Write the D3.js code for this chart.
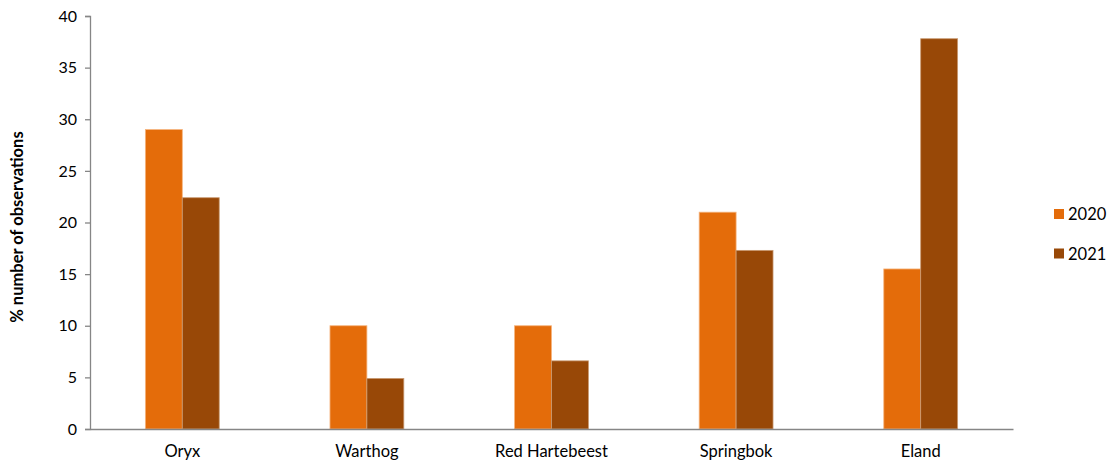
<!DOCTYPE html>
<html><head><meta charset="utf-8">
<script src="https://cdn.jsdelivr.net/npm/d3@7"></script>
<style>body{margin:0;background:#fff}svg{display:block}text{font-family:Lato,"Open Sans",sans-serif;fill:#000}</style>
</head><body>
<svg id="c" width="1113" height="466"></svg>
<script>
const categories = ["Oryx","Warthog","Red Hartebeest","Springbok","Eland"];
const seriesNames = ["2020","2021"];
const values2020 = [29, 10, 10, 21, 15.5];
const values2021 = [22.4, 4.9, 6.6, 17.3, 37.8];
const yTicks = [0,5,10,15,20,25,30,35,40];
const colors = ["#E46C0A","#984807"];
const strokes = ["#F5B47E","#C99A72"];

const svg = d3.select("#c");
const x = d3.scaleBand().domain(categories).range([90,1013]);
const y = d3.scaleLinear().domain([0,40]).range([429,16]);
const barW = x.bandwidth()*0.2;

const data = [values2020, values2021];
data.forEach((vals,si)=>{
  svg.append("g").selectAll("rect").data(categories).join("rect")
    .attr("x", c => x(c)+x.bandwidth()/2 - barW + si*barW)
    .attr("y", (c,i)=>y(vals[i]))
    .attr("width", barW)
    .attr("height", (c,i)=>y(0)-y(vals[i]))
    .attr("fill", colors[si])
    .attr("stroke", strokes[si]).attr("stroke-width",0.8);
});

const ya = svg.append("g").attr("transform","translate(90,0)")
  .call(d3.axisLeft(y).tickValues(yTicks).tickSize(5).tickPadding(8));
ya.select(".domain").attr("stroke","#868686").attr("stroke-width",1.3);
ya.selectAll(".tick line").attr("stroke","#868686").attr("stroke-width",1.3);
ya.selectAll("text").attr("font-size",16).attr("fill","#000").attr("font-family","Lato");

const xa = svg.append("g").attr("transform","translate(0,429)")
  .call(d3.axisBottom(x).tickSize(0).tickPadding(16).tickSizeOuter(0));
xa.select(".domain").attr("stroke","#868686").attr("stroke-width",1.3);
xa.selectAll("text").attr("font-size",16.5).attr("fill","#000").attr("font-family","Lato");

svg.append("text").attr("transform","translate(23,227) rotate(-90)")
  .attr("text-anchor","middle").attr("font-weight","bold").attr("font-size",16.5)
  .text("% number of observations");

const leg = svg.append("g");
seriesNames.forEach((s,i)=>{
  leg.append("rect").attr("x",1054).attr("y",209+i*39.5).attr("width",10).attr("height",10).attr("fill",colors[i]);
  leg.append("text").attr("x",1068).attr("y",220+i*39.5).attr("font-size",16.5).text(s);
});
</script>
</body></html>
